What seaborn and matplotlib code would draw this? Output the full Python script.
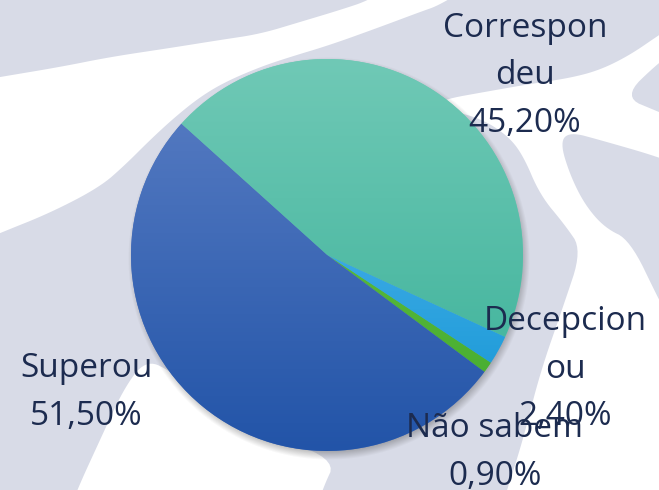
import numpy as np
import matplotlib
matplotlib.use("Agg")
import matplotlib.pyplot as plt
import seaborn as sns
from matplotlib.patches import Polygon, Rectangle
from matplotlib.colors import LinearSegmentedColormap

# ---- data ----
categories = ["Correspondeu", "Decepcionou", "Não sabem", "Superou"]
values = [45.2, 2.4, 0.9, 51.5]
label_lines = [["Correspon", "deu"], ["Decepcion", "ou"], ["Não sabem"], ["Superou"]]
top_colors = ["#70C9B6", "#3AA9E4", "#58B83C", "#5278C0"]
bottom_colors = ["#48B7A0", "#229DDA", "#4AAF32", "#2254A8"]

# ---- layout / style ----
W, H = 659, 490
CX, CY, R = 327, 255, 196
START = 138.0
label_anchor = [(525, 37), (565, 330), (495, 437), (86, 377)]  # first baseline (px)
LINE_DY = 47.5
TEXT_COLOR = "#1C2B4F"

sns.set_theme(style="white")
plt.rcParams["font.family"] = ["Open Sans", "DejaVu Sans"]


def chaikin(pts, n=3):
    p = np.asarray(pts, float)
    for _ in range(n):
        q = np.roll(p, -1, axis=0)
        p = np.vstack([np.column_stack([0.75 * p + 0.25 * q]), 0.25 * p + 0.75 * q])
        # interleave
        k = len(p) // 2
        inter = np.empty_like(p)
        inter[0::2] = p[:k]
        inter[1::2] = p[k:]
        p = inter
    return p


fig = plt.figure(figsize=(W / 100, H / 100), dpi=100)

# background
bg = fig.add_axes([0, 0, 1, 1])
bg.axis("off")
bg.add_patch(Rectangle((0, 0), W, H, facecolor="#D8DBE7", edgecolor="none", zorder=0))
shapes = [
    [(-40, 84), (0, 77), (60, 67), (110, 57), (170, 48), (220, 40), (260, 34), (300, 22),
     (340, 10), (370, 0), (400, -20), (480, -20), (440, 5), (420, 12), (380, 27), (330, 45),
     (290, 57), (260, 67), (225, 82), (200, 97), (175, 117), (150, 140), (125, 165),
     (100, 187), (50, 213), (0, 233), (-40, 250)],
    [(440, 100), (490, 91), (530, 84), (570, 78), (600, 70), (630, 55), (659, 35), (690, 15),
     (690, 40), (659, 62), (623, 97), (659, 112), (690, 125), (690, 170), (659, 157),
     (600, 140), (570, 132), (560, 142), (570, 175), (585, 205), (605, 228), (630, 240),
     (659, 300), (690, 360), (700, 530), (495, 530), (507, 490), (523, 440), (540, 373),
     (563, 307), (582, 250), (565, 225), (540, 195), (523, 155), (507, 135), (480, 118),
     (440, 108)],
    [(62, 530), (77, 490), (100, 440), (123, 390), (145, 360), (170, 370), (250, 430),
     (337, 458), (322, 490), (310, 530)],
]
for s in shapes:
    bg.add_patch(Polygon(chaikin(s, 3), closed=True, facecolor="white", edgecolor="none", zorder=1))

# soft shadow
yy, xx = np.mgrid[0:H, 0:W] + 0.5
d = np.hypot(xx - (CX + 2), yy - (CY + 4))
alpha = np.clip((R + 5 - d) / 9.0, 0, 1) * 0.35
shadow = np.zeros((H, W, 4))
shadow[..., :3] = 0.25
shadow[..., 3] = alpha
bg.imshow(shadow, extent=(0, W, H, 0), zorder=2, interpolation="bilinear", aspect="auto")
bg.set_xlim(0, W)
bg.set_ylim(H, 0)

# pie
ax = fig.add_axes([(CX - R) / W, (H - CY - R) / H, 2 * R / W, 2 * R / H])
wedges, _ = ax.pie(values, startangle=START, counterclock=False, colors=top_colors,
                   wedgeprops=dict(linewidth=0, edgecolor="none"))
grad = np.linspace(0, 1, 256).reshape(-1, 1)
for w, c0, c1 in zip(wedges, top_colors, bottom_colors):
    th = np.radians(np.linspace(w.theta1, w.theta2, 300))
    xs = np.r_[0, w.r * np.cos(th)] + w.center[0]
    ys = np.r_[0, w.r * np.sin(th)] + w.center[1]
    cmap = LinearSegmentedColormap.from_list("g", [c0, c1])
    im = ax.imshow(grad, cmap=cmap, extent=(xs.min(), xs.max(), ys.min(), ys.max()),
                   origin="upper", aspect="auto", zorder=w.get_zorder() + 0.5,
                   interpolation="bilinear")
    im.set_clip_path(w)
ax.set_xlim(-1, 1)
ax.set_ylim(-1, 1)
ax.set_aspect("auto")
ax.axis("off")

# labels
top = fig.add_axes([0, 0, 1, 1])
top.axis("off")
top.set_xlim(0, W)
top.set_ylim(H, 0)
for lines, v, (x, y0) in zip(label_lines, values, label_anchor):
    pct = f"{v:.2f}%".replace(".", ",")
    for i, line in enumerate(lines + [pct]):
        top.text(x, y0 + i * LINE_DY, line, ha="center", va="baseline",
                 fontsize=24, color=TEXT_COLOR)

fig.savefig("out.png", dpi=100)
